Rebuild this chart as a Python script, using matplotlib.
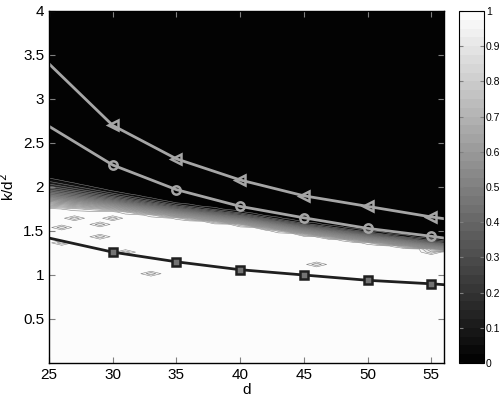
import matplotlib
matplotlib.use("Agg")
import matplotlib.pyplot as plt
import numpy as np

plt.rcParams['font.family'] = ['Liberation Sans', 'DejaVu Sans']

# curves (k/d^2 against d)
d_line = [25, 30, 35, 40, 45, 50, 55, 56]
k_tri = [3.40, 2.70, 2.32, 2.08, 1.90, 1.78, 1.66, 1.64]
k_circ = [2.69, 2.25, 1.97, 1.78, 1.65, 1.53, 1.44, 1.42]
k_sq = [1.42, 1.26, 1.15, 1.06, 1.00, 0.94, 0.90, 0.89]
d_marks = [30, 35, 40, 45, 50, 55]

# edges of the transition band of the success probability
d_band = [25, 30, 35, 40, 45, 50, 56]
band_top = [2.14, 1.98, 1.84, 1.74, 1.62, 1.52, 1.40]
band_bottom = [1.75, 1.72, 1.64, 1.56, 1.45, 1.36, 1.26]

# isolated low cells in the white area (d, k/d^2, value)
dip_d = [26.0, 27.0, 28.8, 29.0, 30.4, 25.7, 31.2, 33.1, 46.0, 55.1]
dip_k = [1.53, 1.66, 1.58, 1.44, 1.66, 1.35, 1.26, 1.03, 1.11, 1.27]
dip_v = [0.88, 0.88, 0.88, 0.88, 0.88, 0.88, 0.88, 0.88, 0.88, 0.88]

# build the grid
dd = np.arange(25, 57, 1.0)
kk = np.arange(0, 4.0001, 0.035)
D, K = np.meshgrid(dd, kk)
top = np.interp(dd, d_band, band_top)
bot = np.interp(dd, d_band, band_bottom)
t = np.clip((top[None, :] - K) / (top - bot)[None, :], 0, 1)
P = t ** 1.6
for x, y, v in zip(dip_d, dip_k, dip_v):
    i = np.argmin(np.abs(kk - y))
    j = np.argmin(np.abs(dd - x))
    P[i, j] = v

fig = plt.figure(figsize=(5, 4), dpi=100)
ax = fig.add_axes([0.098, 0.0925, 0.79, 0.88])
cax = fig.add_axes([0.918, 0.0925, 0.05, 0.88])

levels = np.linspace(0, 1, 41)
cf = ax.contourf(D, K, P, levels=levels, cmap='gray', vmin=0, vmax=1)
ax.contour(D, K, P, levels=levels[1:-1:2], colors='0.5', linewidths=0.4)

ax.plot(d_line, k_tri, color='0.65', lw=2)
ax.plot(d_marks, np.interp(d_marks, d_line, k_tri), ls='none', marker='<',
        ms=7, mfc='none', mec='0.65', mew=1.8)
ax.plot(d_line, k_circ, color='0.65', lw=2)
ax.plot(d_marks, np.interp(d_marks, d_line, k_circ), ls='none', marker='o',
        ms=6, mfc='none', mec='0.65', mew=1.8)
ax.plot(d_line, k_sq, color='0.12', lw=2)
ax.plot(d_marks, np.interp(d_marks, d_line, k_sq), ls='none', marker='s',
        ms=6, mfc='0.45', mec='0.12', mew=1.8)

ax.set_xlim(25, 56)
ax.set_ylim(0, 4)
ax.set_xticks([25, 30, 35, 40, 45, 50, 55])
ax.set_yticks([0.5, 1, 1.5, 2, 2.5, 3, 3.5, 4])
ax.set_yticklabels(['0.5', '1', '1.5', '2', '2.5', '3', '3.5', '4'])
ax.tick_params(direction='in', labelsize=11, top=True, right=True, length=4, color='0.5')
ax.set_xlabel('d', fontsize=11, labelpad=1)
ax.set_ylabel('k/d$^2$', fontsize=11, labelpad=4)
for s in ax.spines.values():
    s.set_linewidth(1)

cb = fig.colorbar(cf, cax=cax, ticks=np.linspace(0, 1, 11))
cb.ax.set_yticklabels(['0', '0.1', '0.2', '0.3', '0.4', '0.5', '0.6', '0.7', '0.8', '0.9', '1'])
cb.ax.tick_params(direction='in', labelsize=7.5, left=True, right=True, length=3,
                  color='0.5', pad=1.5)
cb.outline.set_linewidth(0.8)

fig.savefig('out.png', dpi=100)
